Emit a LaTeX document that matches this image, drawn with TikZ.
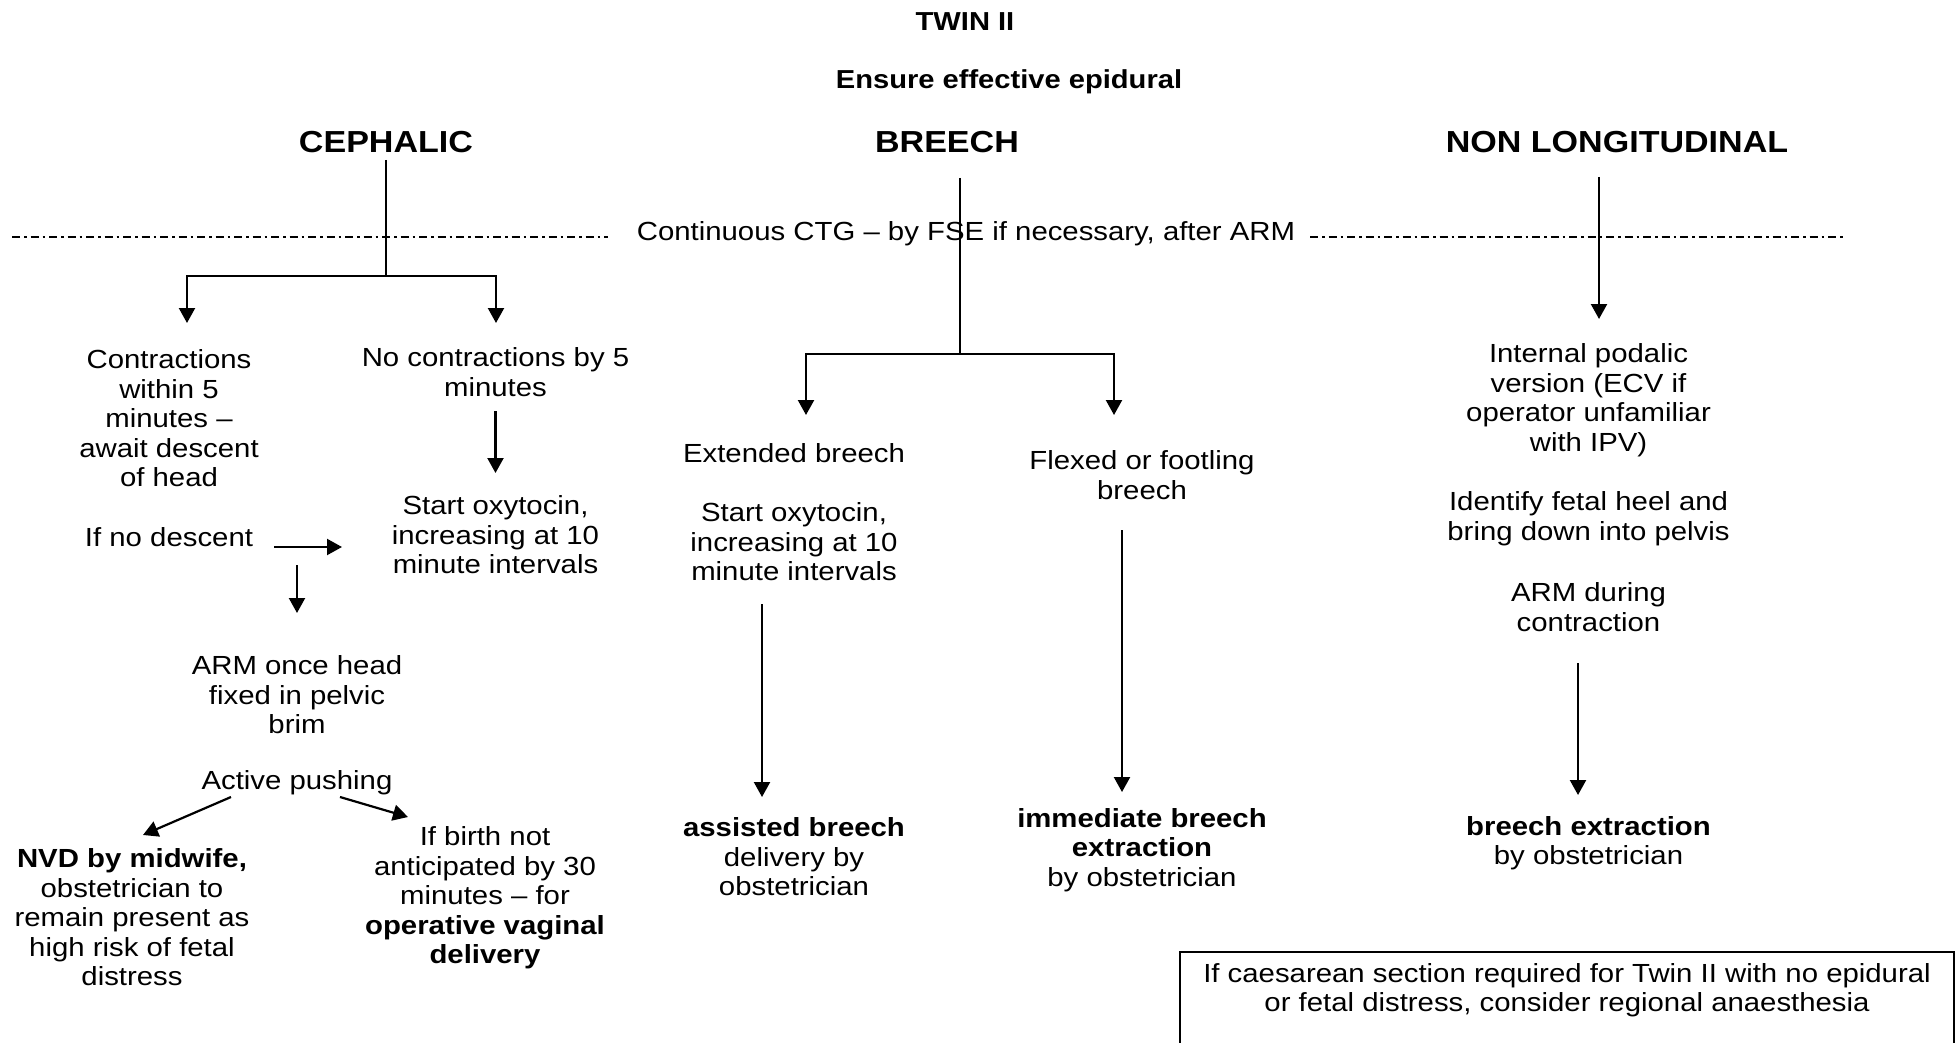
\documentclass[tikz,border=0pt]{standalone}
\usepackage{fontspec}
\setmainfont{Liberation Sans}[FakeStretch=1.12]
\usetikzlibrary{arrows.meta}
\begin{document}
\begin{tikzpicture}[x=1pt,y=-1pt,
  txt/.style={font=\fontsize{26.2}{29.5}\selectfont, align=center, inner sep=0pt},
  btxt/.style={font=\fontsize{26}{29.5}\selectfont\bfseries, align=center, inner sep=0pt},
  head/.style={font=\fontsize{30.4}{33}\selectfont\bfseries, inner sep=0pt},
  ln/.style={line width=2.2pt},
  arr/.style={line width=2.2pt, -{Triangle[width=16pt,length=15pt]}},
  dashdot/.style={line width=2.3pt, dash pattern=on 8pt off 4pt on 2.5pt off 4pt},
  boxline/.style={line width=2pt}]
\useasboundingbox (0,0) rectangle (1957,1043);
\clip (0,0) rectangle (1957,1043);

% titles
\node[btxt] (twin) at (965,22) {TWIN II};
\node[btxt] (epi) at (1009,82) {Ensure effective epidural};
\node[head] (ceph) at (386,142) {CEPHALIC};
\node[head] (breech) at (947,142) {BREECH};
\node[head] (nonlong) at (1617,142) {NON LONGITUDINAL};

% CTG line
\node[txt] (ctg) at (966,234) {Continuous CTG – by FSE if necessary, after ARM};
\coordinate (dl1) at (12,237);  \coordinate (dl2) at (608,237);
\coordinate (dr1) at (1310,237); \coordinate (dr2) at (1845,237);
\draw[dashdot] (dl1) -- (dl2);
\draw[dashdot] (dr1) -- (dr2);

% ---------- CEPHALIC ----------
\coordinate (cj) at (386,276);
\coordinate (clt) at (187,323);
\coordinate (crt) at (496,323);
\draw[ln, shorten <=7pt] (ceph.south) -- (cj);
\draw[arr] (cj) -| (clt);
\draw[arr] (cj) -| (crt);

\node[txt] (c1) at (169,418.5) {Contractions\\within 5\\minutes –\\await descent\\of head};
\node[txt] (c2) at (495.5,372) {No contractions by 5\\minutes};
\node[txt] (c3) at (495.5,535) {Start oxytocin,\\increasing at 10\\minute intervals};
\coordinate (a1s) at (495.5,411); \coordinate (a1e) at (495.5,473);
\draw[arr] (a1s) -- (a1e);

\node[txt] (c4) at (169,537) {If no descent};
\coordinate (a2s) at (274,547); \coordinate (a2e) at (342,547);
\draw[arr] (a2s) -- (a2e);
\coordinate (a3s) at (297,565); \coordinate (a3e) at (297,613);
\draw[arr] (a3s) -- (a3e);

\node[txt] (c5) at (297,695) {ARM once head\\fixed in pelvic\\brim};
\node[txt] (c6) at (297,783) {Active pushing};
\coordinate (a4s) at (231,797); \coordinate (a4e) at (143,835);
\draw[arr] (a4s) -- (a4e);
\coordinate (a5s) at (340,797); \coordinate (a5e) at (408,817);
\draw[arr] (a5s) -- (a5e);

\node[txt] (c7) at (132,917.5) {\textbf{NVD by midwife,}\\obstetrician to\\remain present as\\high risk of fetal\\distress};
\node[txt] (c8) at (485,898) {If birth not\\anticipated by 30\\minutes – for\\\textbf{operative vaginal}\\\textbf{delivery}};

% ---------- BREECH ----------
\coordinate (bj) at (960,354);
\coordinate (blt) at (806,415);
\coordinate (brt) at (1114,415);
\draw[ln, shorten <=25pt] (breech.south -| bj) -- (bj);
\draw[arr] (bj) -| (blt);
\draw[arr] (bj) -| (brt);

\node[txt] (b1) at (794,453) {Extended breech};
\node[txt] (b2) at (794,542) {Start oxytocin,\\increasing at 10\\minute intervals};
\coordinate (a6s) at (762,604); \coordinate (a6e) at (762,797);
\draw[arr] (a6s) -- (a6e);
\node[txt] (b3) at (794,857) {\textbf{assisted breech}\\delivery by\\obstetrician};

\node[txt] (b4) at (1142,475) {Flexed or footling\\breech};
\coordinate (a7s) at (1122,530); \coordinate (a7e) at (1122,792);
\draw[arr] (a7s) -- (a7e);
\node[txt] (b5) at (1142,850) {\textbf{immediate breech}\\\textbf{extraction}\\by obstetrician};

% ---------- NON LONGITUDINAL ----------
\coordinate (ntip) at (1599,319);
\draw[arr, shorten <=24pt] (nonlong.south -| ntip) -- (ntip);
\node[txt] (n1) at (1588.5,400) {Internal podalic\\version (ECV if\\operator unfamiliar\\with IPV)};
\node[txt] (n2) at (1588.5,518.5) {Identify fetal heel and\\bring down into pelvis};
\node[txt] (n3) at (1588.5,607) {ARM during\\contraction};
\coordinate (a8s) at (1578,663); \coordinate (a8e) at (1578,795);
\draw[arr] (a8s) -- (a8e);
\node[txt] (n4) at (1588.5,843) {\textbf{breech extraction}\\by obstetrician};

% ---------- note box ----------
\coordinate (bxnw) at (1180,952); \coordinate (bxse) at (1954,1070);
\draw[boxline] (bxnw) rectangle (bxse);
\node[txt] (cstext) at (1567,990) {If caesarean section required for Twin II with no epidural\\or fetal distress, consider regional anaesthesia};
\end{tikzpicture}
\end{document}
